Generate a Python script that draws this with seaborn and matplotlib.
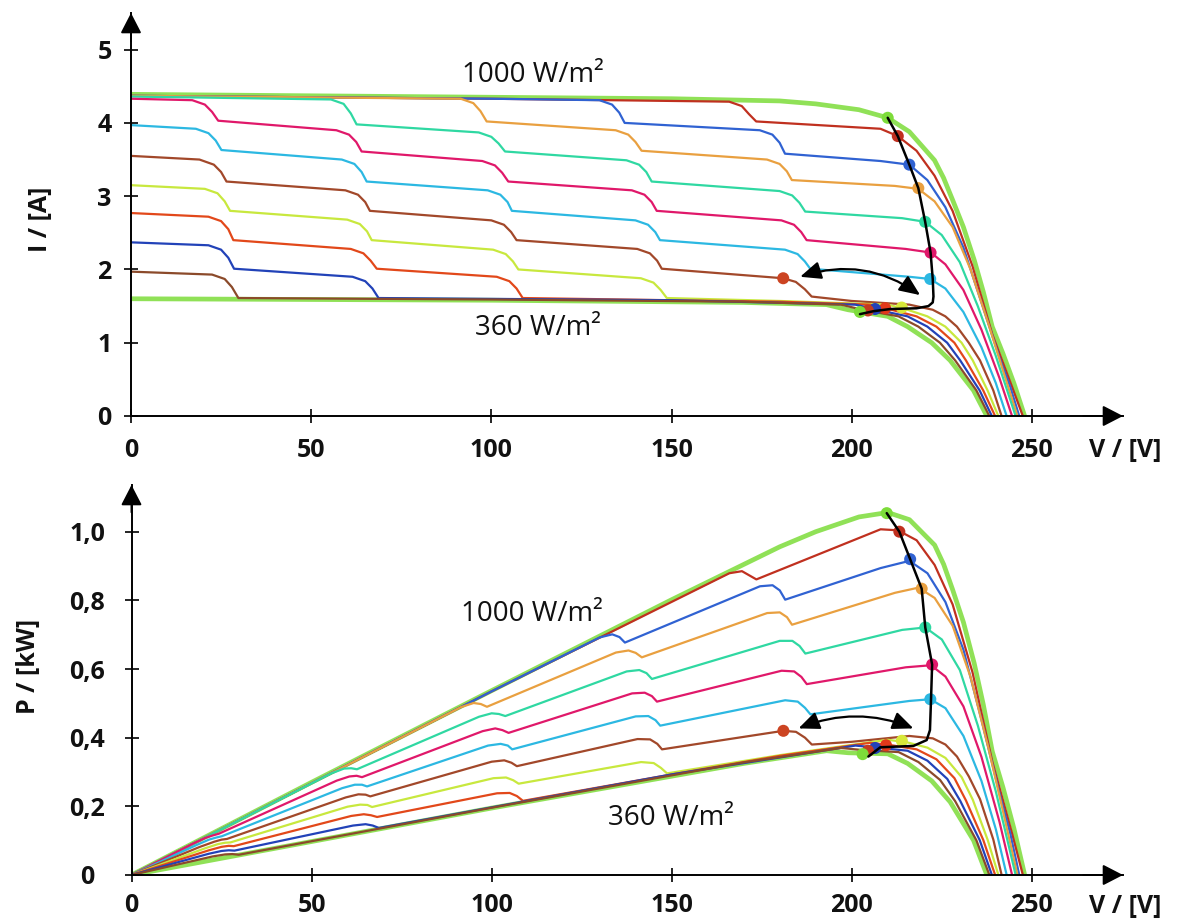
import matplotlib
matplotlib.use("Agg")
import matplotlib.pyplot as plt
import pandas as pd
import seaborn as sns

# I-V and P-V characteristics of a PV string while a shadow moves across it.
# Every curve: voltage [V], current [A] and power [kW] at the same voltage points.

# 1000 W/m2, unshaded string
volt_s0 = [0, 50, 100, 150, 180, 190, 202, 210, 216, 223, 225.5, 228, 231, 234, 236.5, 239, 242, 245, 248]
amp_s0 = [4.39, 4.37, 4.35, 4.33, 4.30, 4.26, 4.18, 4.07, 3.88, 3.49, 3.25, 2.95, 2.58, 2.13, 1.70, 1.22, 0.85, 0.45, 0]
kw_s0 = [0, 0.270, 0.537, 0.802, 0.956, 1.000, 1.043, 1.056, 1.035, 0.961, 0.905, 0.831, 0.736, 0.616, 0.497, 0.360, 0.254, 0.136, 0]

volt_s1 = [0, 100, 166, 169.5, 171.5, 173.5, 208, 212.8, 218, 223, 228, 233.5, 239, 244.5, 247.5]
amp_s1 = [4.37, 4.33, 4.29, 4.23, 4.12, 4.02, 3.92, 3.82, 3.62, 3.28, 2.80, 2.05, 1.12, 0.40, 0]
kw_s1 = [0, 0.535, 0.879, 0.885, 0.873, 0.861, 1.007, 1.004, 0.975, 0.903, 0.788, 0.591, 0.331, 0.121, 0]

volt_s2 = [0, 100, 130, 133.5, 135.5, 137, 174.5, 178, 180, 181.5, 208, 216, 221, 226, 231, 236, 241, 244, 246.5]
amp_s2 = [4.37, 4.33, 4.31, 4.25, 4.14, 4.00, 3.90, 3.84, 3.73, 3.58, 3.48, 3.43, 3.22, 2.85, 2.30, 1.55, 0.80, 0.40, 0]
kw_s2 = [0, 0.535, 0.692, 0.701, 0.693, 0.677, 0.841, 0.844, 0.829, 0.802, 0.894, 0.915, 0.879, 0.795, 0.656, 0.452, 0.238, 0.121, 0]

volt_s3 = [0, 91.5, 95, 97, 98.7, 134.5, 138, 140, 141.7, 176.5, 180, 182, 183.4, 212, 218.5, 223, 228, 233, 238, 242, 246]
amp_s3 = [4.37, 4.33, 4.27, 4.16, 4.02, 3.90, 3.84, 3.74, 3.62, 3.50, 3.44, 3.34, 3.22, 3.14, 3.10, 2.93, 2.58, 2.00, 1.25, 0.62, 0]
kw_s3 = [0, 0.489, 0.501, 0.498, 0.490, 0.648, 0.654, 0.647, 0.634, 0.763, 0.765, 0.751, 0.729, 0.822, 0.837, 0.807, 0.726, 0.576, 0.367, 0.185, 0]

volt_s4 = [0, 55.5, 59, 61, 62.6, 96.5, 100, 102, 103.8, 137.5, 141, 143, 144.5, 180, 183.5, 185.5, 187.1,
           214, 220.4, 225, 230, 235, 240, 245.5]
amp_s4 = [4.36, 4.32, 4.26, 4.13, 3.98, 3.87, 3.81, 3.72, 3.61, 3.49, 3.43, 3.33, 3.20, 3.07, 3.01, 2.91, 2.79,
          2.70, 2.65, 2.47, 2.10, 1.50, 0.82, 0]
kw_s4 = [0, 0.296, 0.310, 0.311, 0.308, 0.461, 0.471, 0.469, 0.463, 0.593, 0.597, 0.588, 0.571, 0.682, 0.682, 0.667, 0.645,
         0.714, 0.721, 0.686, 0.597, 0.435, 0.243, 0]

volt_s5 = [0, 17, 20.5, 22.5, 24.2, 57, 60.5, 62.5, 64, 97.5, 101, 103, 104.7, 139, 142.5, 144.5, 145.9,
           180.5, 184, 186, 187.5, 215, 222, 226, 231, 236, 241, 244.5]
amp_s5 = [4.33, 4.31, 4.25, 4.15, 4.03, 3.90, 3.84, 3.74, 3.61, 3.48, 3.42, 3.32, 3.20, 3.08, 3.02, 2.92, 2.80,
          2.67, 2.61, 2.51, 2.40, 2.28, 2.23, 2.07, 1.72, 1.18, 0.52, 0]
kw_s5 = [0, 0.091, 0.108, 0.115, 0.120, 0.275, 0.287, 0.289, 0.285, 0.419, 0.427, 0.422, 0.414, 0.529, 0.531, 0.521, 0.505,
         0.595, 0.593, 0.577, 0.556, 0.605, 0.611, 0.578, 0.491, 0.344, 0.155, 0]

volt_s6 = [0, 18, 21.5, 23.5, 25.1, 58.5, 62, 64, 65.4, 99, 102.5, 104.5, 105.7, 140, 143.5, 145.5, 146.8,
           181.5, 185, 187, 188.5, 216, 221.8, 226, 231, 236, 240, 243]
amp_s6 = [3.97, 3.92, 3.86, 3.76, 3.63, 3.50, 3.44, 3.33, 3.20, 3.08, 3.02, 2.92, 2.80, 2.67, 2.61, 2.51, 2.40,
          2.27, 2.21, 2.11, 2.01, 1.90, 1.87, 1.74, 1.42, 0.94, 0.45, 0]
kw_s6 = [0, 0.087, 0.103, 0.109, 0.113, 0.253, 0.263, 0.263, 0.258, 0.377, 0.382, 0.377, 0.366, 0.462, 0.463, 0.451, 0.435,
         0.509, 0.505, 0.487, 0.468, 0.507, 0.512, 0.486, 0.405, 0.274, 0.133, 0]

volt_s7 = [0, 19, 23, 25, 26.5, 59.5, 63, 65, 66.3, 100, 103.5, 105.5, 107, 140.5, 144, 146, 147.3,
           181, 184.5, 187, 188.9, 200, 216, 222.5, 226, 229.2, 232.5, 235.6, 239.3, 241.6]
amp_s7 = [3.55, 3.50, 3.43, 3.33, 3.20, 3.08, 3.02, 2.92, 2.80, 2.67, 2.61, 2.51, 2.40, 2.28, 2.22, 2.12, 2.01,
          1.88, 1.83, 1.73, 1.63, 1.57, 1.52, 1.45, 1.36, 1.22, 1.00, 0.76, 0.35, 0]
kw_s7 = [0, 0.082, 0.097, 0.103, 0.105, 0.226, 0.235, 0.234, 0.229, 0.330, 0.334, 0.327, 0.317, 0.396, 0.395, 0.382, 0.366,
         0.420, 0.417, 0.400, 0.380, 0.388, 0.405, 0.398, 0.380, 0.345, 0.287, 0.221, 0.103, 0]

volt_s8 = [0, 20.5, 24, 26, 27.5, 60, 63.5, 65.5, 66.8, 100.5, 104, 106, 107.5, 141.5, 145, 147, 148.7,
           180, 210, 215.5, 221, 226, 230.5, 233.6, 237.7, 240.7]
amp_s8 = [3.15, 3.10, 3.04, 2.93, 2.80, 2.68, 2.62, 2.52, 2.40, 2.27, 2.21, 2.11, 2.00, 1.88, 1.82, 1.72, 1.61,
          1.57, 1.52, 1.45, 1.36, 1.22, 1.00, 0.76, 0.35, 0]
kw_s8 = [0, 0.078, 0.090, 0.094, 0.095, 0.199, 0.205, 0.204, 0.198, 0.282, 0.284, 0.276, 0.266, 0.329, 0.326, 0.312, 0.296,
         0.349, 0.394, 0.386, 0.371, 0.341, 0.285, 0.219, 0.103, 0]

volt_s9 = [0, 21.5, 25, 27, 28.4, 61, 64.5, 66.5, 68.2, 101.5, 105, 107, 108.7, 150, 180, 205, 211, 218,
           223.5, 228.5, 231.7, 236.5, 239.8]
amp_s9 = [2.77, 2.72, 2.66, 2.55, 2.40, 2.28, 2.22, 2.12, 2.01, 1.90, 1.84, 1.74, 1.61, 1.58, 1.56, 1.52, 1.45, 1.36,
          1.22, 1.00, 0.76, 0.35, 0]
kw_s9 = [0, 0.072, 0.082, 0.085, 0.084, 0.172, 0.177, 0.174, 0.169, 0.238, 0.239, 0.230, 0.216, 0.293, 0.347, 0.385, 0.378, 0.366,
         0.337, 0.282, 0.217, 0.102, 0]

volt_s10 = [0, 21.5, 25, 27, 28.6, 61.5, 65, 67, 68.7, 150, 201, 207, 215.5, 221, 226.5, 230.1, 235.5, 238.9]
amp_s10 = [2.37, 2.33, 2.27, 2.16, 2.01, 1.90, 1.84, 1.74, 1.61, 1.58, 1.52, 1.45, 1.36, 1.22, 1.00, 0.76, 0.35, 0]
kw_s10 = [0, 0.062, 0.070, 0.072, 0.071, 0.144, 0.148, 0.144, 0.137, 0.293, 0.377, 0.371, 0.362, 0.333, 0.280, 0.216, 0.102, 0]

volt_s11 = [0, 22.5, 26, 28, 29.8, 100, 170, 197, 203, 213, 218.5, 224.5, 228.7, 234.6, 238.2]
amp_s11 = [1.97, 1.93, 1.87, 1.76, 1.61, 1.59, 1.56, 1.52, 1.45, 1.36, 1.22, 1.00, 0.76, 0.35, 0]
kw_s11 = [0, 0.054, 0.060, 0.061, 0.059, 0.196, 0.328, 0.370, 0.364, 0.358, 0.329, 0.277, 0.215, 0.101, 0]

# 360 W/m2 on the whole string
volt_s12 = [0, 100, 170, 193, 199, 210, 215.5, 222.2, 227.3, 233.8, 237.5]
amp_s12 = [1.60, 1.58, 1.55, 1.52, 1.45, 1.36, 1.22, 1.00, 0.76, 0.35, 0]
kw_s12 = [0, 0.195, 0.325, 0.362, 0.356, 0.353, 0.325, 0.274, 0.213, 0.101, 0]

curve_names = ["s0", "s1", "s2", "s3", "s4", "s5", "s6", "s7", "s8", "s9", "s10", "s11", "s12"]
curve_colors = ["#7ddc3a", "#c0301f", "#3062d2", "#e9a040", "#2fd8a2", "#e0186a", "#2cb8e2",
                "#a2482a", "#c8e83e", "#e2481a", "#2242b8", "#8b4a2a", "#7ddc3a"]

# maximum power points (I-V panel and P-V panel)
mpp_volt_iv = [210.0, 212.8, 216.0, 218.5, 220.4, 221.9, 221.8, 181.0, 213.9, 209.3, 206.5, 204.5, 202.3]
mpp_amp = [4.07, 3.82, 3.43, 3.11, 2.65, 2.23, 1.87, 1.88, 1.48, 1.47, 1.46, 1.44, 1.42]
mpp_volt_pv = [209.7, 213.2, 216.2, 219.4, 220.4, 222.3, 221.8, 181.0, 213.9, 209.5, 206.5, 204.5, 203.0]
mpp_kw = [1.054, 1.000, 0.920, 0.834, 0.721, 0.613, 0.512, 0.420, 0.391, 0.378, 0.370, 0.362, 0.352]
mpp_colors = ["#7ddc3a", "#c0301f", "#3062d2", "#e9a040", "#2fd8a2", "#e0186a", "#2cb8e2",
              "#cc4422", "#d8e83a", "#e2381a", "#2242b8", "#c23a20", "#7ddc3a"]

# path of the operating point followed by the MPP tracker
track_volt_iv = [210.0, 212.8, 216.0, 218.5, 220.4, 221.9, 222.5, 222.7, 222.5, 221.3, 218.0, 210.7, 206.0, 202.3]
track_amp = [4.07, 3.82, 3.43, 3.11, 2.65, 2.23, 1.87, 1.63, 1.55, 1.50, 1.47, 1.46, 1.43, 1.39]
track_volt_pv = [209.7, 213.2, 216.2, 219.4, 220.4, 222.3, 222.0, 221.7, 220.8, 217.1, 207.9, 204.6]
track_kw = [1.054, 1.000, 0.920, 0.834, 0.721, 0.613, 0.512, 0.422, 0.393, 0.376, 0.372, 0.345]

v_ticks = [0, 50, 100, 150, 200, 250]
v_tick_labels = ["0", "50", "100", "150", "200", "250"]
i_ticks = [0, 1, 2, 3, 4, 5]
i_tick_labels = ["0", "1", "2", "3", "4", "5"]
p_ticks = [0, 0.2, 0.4, 0.6, 0.8, 1.0]
p_tick_labels = ["0", "0,2", "0,4", "0,6", "0,8", "1,0"]

volts = [volt_s0, volt_s1, volt_s2, volt_s3, volt_s4, volt_s5, volt_s6,
         volt_s7, volt_s8, volt_s9, volt_s10, volt_s11, volt_s12]
amps = [amp_s0, amp_s1, amp_s2, amp_s3, amp_s4, amp_s5, amp_s6,
        amp_s7, amp_s8, amp_s9, amp_s10, amp_s11, amp_s12]
kws = [kw_s0, kw_s1, kw_s2, kw_s3, kw_s4, kw_s5, kw_s6,
       kw_s7, kw_s8, kw_s9, kw_s10, kw_s11, kw_s12]

df = pd.concat(
    [pd.DataFrame({"curve": n, "V": v, "I": i, "P": p})
     for n, v, i, p in zip(curve_names, volts, amps, kws)],
    ignore_index=True,
)
palette = dict(zip(curve_names, curve_colors))
outer = ["s0", "s12"]
inner = curve_names[1:12]

sns.set_style("white")
plt.rcParams["font.family"] = ["Open Sans", "DejaVu Sans"]

fig = plt.figure(figsize=(11.78, 9.24), dpi=100)
ax_i = fig.add_axes([131 / 1178, 508 / 924, 992 / 1178, 403 / 924])
ax_p = fig.add_axes([131.5 / 1178, 49 / 924, 991.5 / 1178, 390 / 924])

V_MAX = 275.3
TXT = "#111111"


def draw_family(ax, ycol):
    sns.lineplot(data=df[df.curve.isin(outer)], x="V", y=ycol, hue="curve", hue_order=outer,
                 palette=palette, sort=False, estimator=None, lw=3.4, alpha=0.85,
                 legend=False, ax=ax)
    sns.lineplot(data=df[df.curve.isin(inner)], x="V", y=ycol, hue="curve", hue_order=inner,
                 palette=palette, sort=False, estimator=None, lw=1.6,
                 legend=False, ax=ax)


def style_axis(ax, ymax, yticks, ylabels, xpad, ypad):
    ax.set_xlim(0, V_MAX)
    ax.set_ylim(0, ymax)
    ax.set_xlabel("")
    ax.set_ylabel("")
    for s in ("top", "right"):
        ax.spines[s].set_visible(False)
    for s in ("left", "bottom"):
        ax.spines[s].set_linewidth(1.4)
        ax.spines[s].set_color("black")
    ax.set_xticks(v_ticks)
    ax.set_xticklabels(v_tick_labels)
    ax.set_yticks(yticks)
    ax.set_yticklabels(ylabels)
    ax.tick_params(bottom=True, left=True, direction="inout", length=10, width=1.2,
                   color="black", labelsize=18, labelcolor=TXT)
    ax.tick_params(axis="x", pad=xpad)
    ax.tick_params(axis="y", pad=ypad)
    for lab in ax.get_xticklabels() + ax.get_yticklabels():
        lab.set_fontweight("bold")
    for lab in ax.get_yticklabels():
        lab.set_horizontalalignment("center")
    arrow = dict(arrowstyle="-|>,head_length=0.62,head_width=0.32", color="black", lw=1.4,
                 shrinkA=0, shrinkB=0, mutation_scale=20)
    ax.annotate("", xy=(1, 0), xytext=(0.96, 0), xycoords="axes fraction",
                arrowprops=arrow, annotation_clip=False)
    ax.annotate("", xy=(0, 1), xytext=(0, 0.93), xycoords="axes fraction",
                arrowprops=arrow, annotation_clip=False)


# ---- upper panel: current vs voltage ----
draw_family(ax_i, "I")
sns.lineplot(x=track_volt_iv, y=track_amp, sort=False, estimator=None, color="black",
             lw=1.8, ax=ax_i, zorder=6)
ax_i.scatter(mpp_volt_iv, mpp_amp, s=75, c=mpp_colors, edgecolors="none", zorder=5)
ax_i.annotate("", xy=(219.0, 1.65), xytext=(185.7, 1.90),
              arrowprops=dict(arrowstyle="<|-|>,head_length=0.7,head_width=0.3", color="black",
                              lw=1.6, shrinkA=0, shrinkB=0, mutation_scale=18,
                              connectionstyle="arc3,rad=-0.25"), zorder=7)
ax_i.text(111.6, 4.65, "1000 W/m²", fontsize=20, ha="center", va="center", color=TXT)
ax_i.text(113.0, 1.20, "360 W/m²", fontsize=20, ha="center", va="center", color=TXT)
style_axis(ax_i, 5.5, i_ticks, i_tick_labels, xpad=11, ypad=14)

# ---- lower panel: power vs voltage ----
draw_family(ax_p, "P")
sns.lineplot(x=track_volt_pv, y=track_kw, sort=False, estimator=None, color="black",
             lw=1.8, ax=ax_p, zorder=6)
ax_p.scatter(mpp_volt_pv, mpp_kw, s=75, c=mpp_colors, edgecolors="none", zorder=5)
ax_p.annotate("", xy=(217.1, 0.427), xytext=(185.2, 0.427),
              arrowprops=dict(arrowstyle="<|-|>,head_length=0.7,head_width=0.3", color="black",
                              lw=1.6, shrinkA=0, shrinkB=0, mutation_scale=18,
                              connectionstyle="arc3,rad=-0.2"), zorder=7)
ax_p.text(111.2, 0.76, "1000 W/m²", fontsize=20, ha="center", va="center", color=TXT)
ax_p.text(149.8, 0.166, "360 W/m²", fontsize=20, ha="center", va="center", color=TXT)
style_axis(ax_p, 1.136, p_ticks, p_tick_labels, xpad=8, ypad=27)

# axis titles
fig.text(40 / 1178, 1 - 219 / 924, "I / [A]", rotation=90, fontsize=18, fontweight="bold",
         ha="center", va="center", color=TXT)
fig.text(28 / 1178, 1 - 666 / 924, "P / [kW]", rotation=90, fontsize=18, fontweight="bold",
         ha="center", va="center", color=TXT)
fig.text(1125 / 1178, 1 - 450 / 924, "V / [V]", fontsize=18, fontweight="bold",
         ha="center", va="center", color=TXT)
fig.text(1125 / 1178, 1 - 906 / 924, "V / [V]", fontsize=18, fontweight="bold",
         ha="center", va="center", color=TXT)

fig.savefig("out.png", dpi=100, facecolor="white")
